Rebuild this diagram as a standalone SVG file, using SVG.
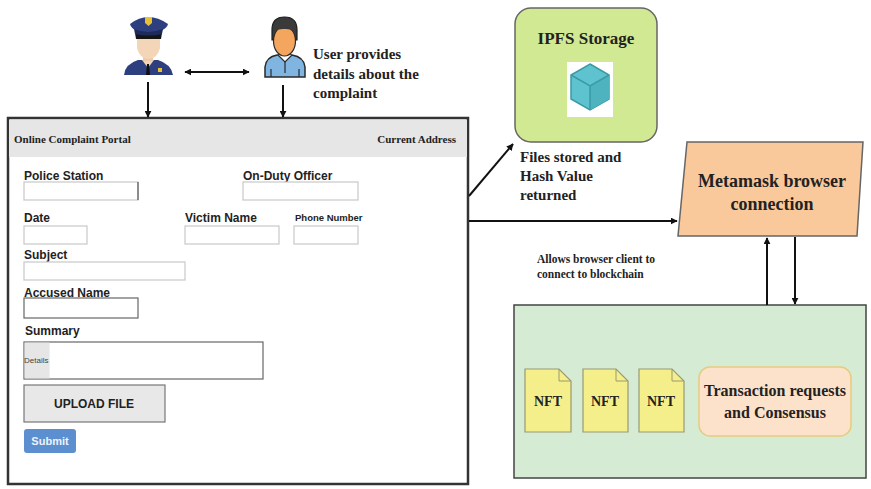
<svg xmlns="http://www.w3.org/2000/svg" width="871" height="489" viewBox="0 0 871 489">
  <defs>
    <marker id="arr" viewBox="0 0 10 10" refX="9" refY="5" markerWidth="7" markerHeight="7" orient="auto-start-reverse" markerUnits="userSpaceOnUse">
      <path d="M0,0 L10,5 L0,10 z" fill="#111"/>
    </marker>
    <style>
      .serif { font-family: "Liberation Serif", "Times New Roman", serif; font-weight: bold; fill: #222; }
      .sans { font-family: "Liberation Sans", Arial, sans-serif; font-weight: bold; fill: #222; }
      .field { fill: #fff; stroke: #c8c8c8; stroke-width: 1.2; }
      .conn { stroke: #111; stroke-width: 2; fill: none; marker-end: url(#arr); }
      .nft { fill: #f4ef8a; stroke: #9a9a70; stroke-width: 1.2; }
    </style>
  </defs>
  <rect width="871" height="489" fill="#fff"/>

  <!-- Police officer icon -->
  <g id="officer">
    <path d="M124,75 Q125,64 138,60 L158,60 Q171,64 173,75 Z" fill="#2e3f80"/>
    <path d="M142,60 L148,68 L154,60 Z" fill="#f3d6b8"/>
    <path d="M147,64 L149,64 L150,75 L146,75 Z" fill="#111"/>
    <rect x="158" y="68" width="4" height="4" fill="#e8c030"/>
    <rect x="143" y="52" width="10" height="9" fill="#eecba8"/>
    <path d="M137,36 L160,36 L160,48 Q158,58 148.5,59 Q139,58 137,48 Z" fill="#f3d6b8"/>
    <path d="M135,33 L162,33 L161,39 L136,39 Z" fill="#151515"/>
    <path d="M130,24 Q148,10 168,24 Q166,32 148,33 Q132,32 130,24 Z" fill="#2e3f80"/>
    <path d="M134,29 Q148,35 163,29 L162,34 Q148,37 135,34 Z" fill="#1f2a5c"/>
    <path d="M145,17 L152,17 L152,23 L148.5,26 L145,23 Z" fill="#e8c030"/>
  </g>

  <!-- User icon -->
  <g id="user">
    <path d="M265,77 L265,67 Q266,57 277,55 L292,55 Q304,57 305,67 L305,77 Z" fill="#7fb5e0" stroke="#2a2a2a" stroke-width="1.5"/>
    <path d="M278,55 L285,62 L292,55" fill="#fff" stroke="#2a2a2a" stroke-width="1.2"/>
    <line x1="285" y1="62" x2="285" y2="73" stroke="#2a2a2a" stroke-width="1.2"/>
    <line x1="271" y1="69" x2="271" y2="77" stroke="#2a2a2a" stroke-width="1.2"/>
    <line x1="299" y1="69" x2="299" y2="77" stroke="#2a2a2a" stroke-width="1.2"/>
    <path d="M272,40 L272,30 Q272,17 284.5,17 Q297,17 297,30 L297,40 Z" fill="#3a3a3a" stroke="#1e1e1e" stroke-width="1.2"/>
    <ellipse cx="284.5" cy="41" rx="11" ry="15" fill="#f4a55e" stroke="#2a2a2a" stroke-width="1.2"/>
    <path d="M273.5,38 Q274,28 284.5,29 Q294,28 295.5,38 L296,30 Q294,21 284.5,21 Q275,21 273,30 Z" fill="#3a3a3a"/>
  </g>

  <g id="user-note">
    <text class="serif" font-size="15"><tspan x="313" y="59">User provides</tspan><tspan x="313" y="79">details about the</tspan><tspan x="313" y="98">complaint</tspan></text>
  </g>

  <!-- Complaint portal form -->
  <g id="portal">
    <rect x="8" y="118" width="460" height="366" fill="#fff" stroke="#333" stroke-width="2.5"/>
    <rect x="9" y="120" width="458" height="37" fill="#e6e6e6"/>
    <text class="serif" font-size="11" x="14" y="143">Online Complaint Portal</text>
    <text class="serif" font-size="11" x="456" y="143" text-anchor="end">Current Address</text>

    <text class="sans" font-size="12" x="24" y="180">Police Station</text>
    <rect class="field" x="24" y="182" width="114" height="18"/>
    <line x1="138" y1="182" x2="138" y2="200" stroke="#555" stroke-width="1.2"/>
    <text class="sans" font-size="12" x="243" y="180">On-Duty Officer</text>
    <rect class="field" x="243" y="182" width="115" height="18"/>

    <text class="sans" font-size="12" x="24" y="222">Date</text>
    <rect class="field" x="24" y="226" width="63" height="18"/>
    <text class="sans" font-size="12" x="185" y="222">Victim Name</text>
    <rect class="field" x="185" y="226" width="94" height="18"/>
    <text class="sans" font-size="9.5" x="295" y="221">Phone Number</text>
    <rect class="field" x="294" y="226" width="64" height="18"/>

    <text class="sans" font-size="12" x="24" y="259">Subject</text>
    <rect class="field" x="24" y="262" width="161" height="18"/>

    <text class="sans" font-size="12" x="24" y="297">Accused Name</text>
    <rect x="24" y="298" width="114" height="20" fill="#fff" stroke="#666" stroke-width="1.2"/>

    <text class="sans" font-size="12" x="25" y="335">Summary</text>
    <rect x="24" y="342" width="239" height="37" fill="#fff" stroke="#666" stroke-width="1.2"/>
    <rect x="24.6" y="342.6" width="25" height="35.8" fill="#e6e6e6"/>
    <text font-family="Liberation Sans, Arial, sans-serif" font-size="8" fill="#444" x="24" y="363">Details</text>

    <rect x="24" y="385" width="141" height="37" fill="#e8e8e8" stroke="#777" stroke-width="1.2"/>
    <text class="sans" font-size="12" x="94" y="408" text-anchor="middle">UPLOAD FILE</text>

    <rect x="24" y="429" width="52" height="24" rx="3" fill="#5b8fd0"/>
    <text class="sans" font-size="11" x="50" y="445" text-anchor="middle" style="fill:#eef3fb">Submit</text>
  </g>

  <!-- IPFS storage -->
  <g id="ipfs">
    <rect x="515" y="8" width="142" height="134" rx="16" fill="#d2e993" stroke="#666" stroke-width="1.5"/>
    <text class="serif" font-size="17" x="586" y="44" text-anchor="middle">IPFS Storage</text>
    <rect x="567" y="62" width="46" height="55" fill="#fff"/>
    <path d="M590,64 L609,75 L609,99 L590,110 L571,99 L571,75 Z" fill="#5ec3cf" stroke="#3a9aa6" stroke-width="1.5"/>
    <path d="M590,86 L609,75 L609,99 L590,110 Z" fill="#4fb3bf"/>
    <path d="M571,75 L590,86 L609,75 M590,86 L590,110" fill="none" stroke="#3a9aa6" stroke-width="1.5"/>
  </g>
  <g id="ipfs-note">
    <text class="serif" font-size="15"><tspan x="520" y="162">Files stored and</tspan><tspan x="520" y="181">Hash Value</tspan><tspan x="520" y="200">returned</tspan></text>
  </g>

  <!-- Metamask connection -->
  <g id="metamask">
    <path d="M687,142 L863,142 L857,236 L678,236 Z" fill="#f9c99c" stroke="#666" stroke-width="1.5"/>
    <text class="serif" font-size="18" x="772" y="187" text-anchor="middle">Metamask browser</text>
    <text class="serif" font-size="18" x="772" y="210" text-anchor="middle">connection</text>
  </g>
  <g id="metamask-note">
    <text class="serif" font-size="11.5"><tspan x="537" y="263">Allows browser client to</tspan><tspan x="537" y="278">connect to blockchain</tspan></text>
  </g>

  <!-- Blockchain network -->
  <g id="blockchain">
    <rect x="514" y="305" width="352" height="173" fill="#d5ebd4" stroke="#444" stroke-width="1.5"/>
  </g>
  <g id="nft1">
    <path class="nft" d="M525,369 L559,369 L571,381 L571,432 L525,432 Z"/>
    <path d="M559,369 L559,381 L571,381" fill="none" stroke="#9a9a70" stroke-width="1"/>
    <text class="serif" font-size="14" x="548" y="406" text-anchor="middle">NFT</text>
  </g>
  <g id="nft2">
    <path class="nft" d="M583,369 L616,369 L628,381 L628,432 L583,432 Z"/>
    <path d="M616,369 L616,381 L628,381" fill="none" stroke="#9a9a70" stroke-width="1"/>
    <text class="serif" font-size="14" x="605" y="406" text-anchor="middle">NFT</text>
  </g>
  <g id="nft3">
    <path class="nft" d="M639,369 L672,369 L684,381 L684,432 L639,432 Z"/>
    <path d="M672,369 L672,381 L684,381" fill="none" stroke="#9a9a70" stroke-width="1"/>
    <text class="serif" font-size="14" x="661" y="406" text-anchor="middle">NFT</text>
  </g>
  <g id="consensus">
    <rect x="699" y="367" width="152" height="69" rx="11" fill="#fde2cb" stroke="#e6cc7e" stroke-width="1.5"/>
    <text class="serif" font-size="16" x="775" y="396" text-anchor="middle">Transaction requests</text>
    <text class="serif" font-size="16" x="775" y="418" text-anchor="middle">and Consensus</text>
  </g>

  <!-- Connectors -->
  <g id="connectors">
    <line class="conn" x1="185" y1="72" x2="249" y2="72" marker-start="url(#arr)"/>
    <line class="conn" x1="148" y1="82" x2="148" y2="117"/>
    <line class="conn" x1="283" y1="85" x2="283" y2="117"/>
    <line class="conn" x1="469" y1="196" x2="513" y2="144"/>
    <line class="conn" x1="469" y1="221" x2="677" y2="221"/>
    <line class="conn" x1="767" y1="305" x2="767" y2="238"/>
    <line class="conn" x1="795" y1="237" x2="795" y2="304"/>
  </g>
</svg>
